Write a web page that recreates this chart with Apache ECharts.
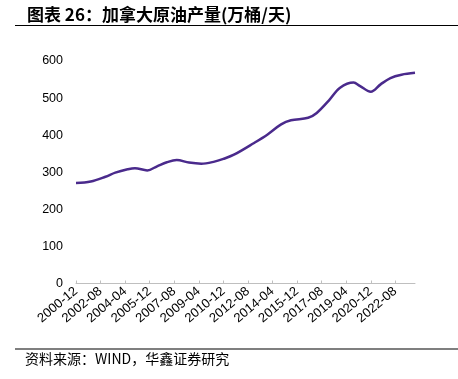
<!DOCTYPE html>
<html>
<head>
<meta charset="utf-8">
<script src="https://cdn.jsdelivr.net/npm/echarts@6/dist/echarts.min.js"></script>
<style>
  html, body { margin: 0; padding: 0; background: #fff; }
  #chart { width: 458px; height: 379px; }
</style>
</head>
<body>
<div id="chart"></div>
<script>
// 月度类目：2000-12 至 2023-12
const startYear = 2000, startMonth = 12, endYear = 2023, endMonth = 12;
const months = [];
for (let y = startYear, m = startMonth; y < endYear || (y === endYear && m <= endMonth); ) {
  months.push(y + '-' + String(m).padStart(2, '0'));
  m++;
  if (m > 12) { m = 1; y++; }
}

// 读图取点（万桶/天）
const pointMonths = [
  '2000-12', '2001-12', '2002-12', '2003-08', '2004-06', '2004-12', '2005-10',
  '2006-06', '2007-02', '2007-10', '2008-08', '2009-06', '2010-04', '2010-12',
  '2011-09', '2013-01', '2013-12', '2014-11', '2015-07', '2016-09', '2017-04',
  '2018-02', '2018-11', '2019-10', '2020-03', '2020-12', '2021-08', '2022-04',
  '2023-01', '2023-12'
];
const pointValues = [
  271, 275, 288, 299, 308, 311, 305,
  316, 327, 333, 326, 323, 328, 336,
  348, 379, 402, 429, 440, 447, 460,
  494, 528, 542, 533, 517, 537, 554,
  563, 568
];

const yTicks = { min: 0, max: 600, interval: 100 };
const titleText = '图表 26：加拿大原油产量(万桶/天)';
const sourceText = '资料来源：WIND，华鑫证券研究';

const chart = echarts.init(document.getElementById('chart'));

chart.setOption({
  animation: false,
  grid: { left: 76, right: 43, top: 61, bottom: 95.5 },
  xAxis: {
    type: 'category',
    data: months,
    boundaryGap: false,
    axisLine: { lineStyle: { color: '#bfbfbf', width: 1 } },
    axisTick: { inside: true, length: 3, interval: 19, lineStyle: { color: '#bfbfbf' } },
    axisLabel: {
      interval: 19,
      rotate: 40,
      margin: 6,
      fontSize: 13,
      color: '#000',
      fontFamily: 'Liberation Sans'
    }
  },
  yAxis: {
    type: 'value',
    min: yTicks.min,
    max: yTicks.max,
    interval: yTicks.interval,
    axisLine: { show: false },
    axisTick: { show: false },
    splitLine: { show: false },
    axisLabel: { margin: 13, fontSize: 12.5, color: '#000', fontFamily: 'Liberation Sans' }
  },
  series: [{
    type: 'line',
    data: pointMonths.map((m, i) => [m, pointValues[i]]),
    smooth: 0.35,
    showSymbol: false,
    lineStyle: { color: '#4a2a8c', width: 2.5 },
    itemStyle: { color: '#4a2a8c' }
  }],
  graphic: [
    {
      type: 'text', left: 27, top: 6,
      style: { text: titleText, fontSize: 17, fontWeight: 'bold', fill: '#000', fontFamily: 'Noto Sans CJK SC' }
    },
    {
      type: 'line', shape: { x1: 15, y1: 25.5, x2: 458, y2: 25.5 },
      style: { stroke: '#000', lineWidth: 1 }
    },
    {
      type: 'line', shape: { x1: 15, y1: 349, x2: 458, y2: 349 },
      style: { stroke: '#555', lineWidth: 1.5 }
    },
    {
      type: 'text', left: 25, top: 352,
      style: { text: sourceText, fontSize: 14, fill: '#000', fontFamily: 'Noto Sans CJK SC' }
    }
  ]
});
</script>
</body>
</html>
